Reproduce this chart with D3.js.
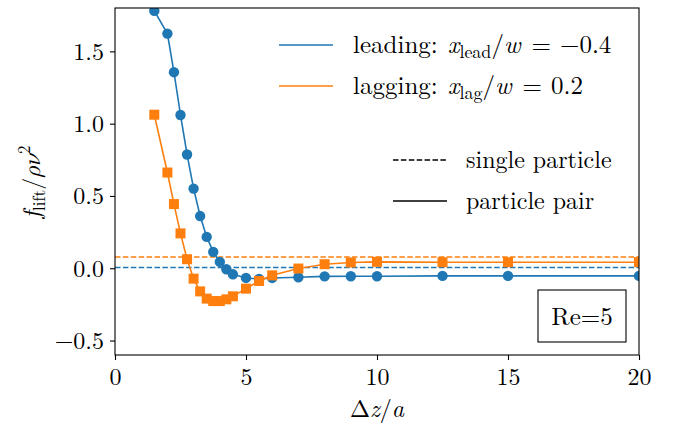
<!DOCTYPE html>
<html><head><meta charset="utf-8">
<script src="https://cdn.jsdelivr.net/npm/d3@7"></script>
</head>
<body style="margin:0;background:#fff"><svg id="c" width="675" height="425"></svg>
<script>
// Data
const leadX = [1.5, 2.0, 2.25, 2.5, 2.75, 3.0, 3.25, 3.5, 3.75, 4.0, 4.25, 4.5, 5, 5.5, 6, 7, 8, 9, 10, 12.5, 15, 20];
const leadY = [1.78, 1.623, 1.356, 1.06, 0.787, 0.551, 0.361, 0.217, 0.113, 0.044, -0.007, -0.042, -0.067, -0.074, -0.067, -0.0625, -0.056, -0.055, -0.055, -0.053, -0.053, -0.053];
const lagX = [1.5, 2.0, 2.25, 2.5, 2.75, 3.0, 3.25, 3.5, 3.75, 4.0, 4.25, 4.5, 5, 5.5, 6, 7, 8, 9, 10, 12.5, 15, 20];
const lagY = [1.062, 0.662, 0.444, 0.241, 0.0625, -0.072, -0.16, -0.21, -0.227, -0.227, -0.215, -0.194, -0.141, -0.088, -0.049, -0.002, 0.028, 0.040, 0.044, 0.042, 0.042, 0.042];
const singleLead = 0.005;
const singleLag = 0.078;
const xTicks = [0, 5, 10, 15, 20];
const yTicks = [-0.5, 0.0, 0.5, 1.0, 1.5];

const FONT = "'Latin Modern Roman', 'Liberation Serif', serif";
const MATHF = "'Latin Modern Math', 'Latin Modern Roman', 'DejaVu Serif', serif";
const C_BLUE = "#1f77b4", C_ORANGE = "#ff7f0e";
const L = 115, R = 639, T = 8, B = 355;
const svg = d3.select("#c").attr("font-family", FONT);
const x = d3.scaleLinear().domain([0, 20]).range([L, R]);
const y = d3.scaleLinear().domain([-0.6, 1.8]).range([B, T]);

svg.append("defs").append("clipPath").attr("id", "clip")
  .append("rect").attr("x", L).attr("y", T).attr("width", R - L).attr("height", B - T);

const plot = svg.append("g").attr("clip-path", "url(#clip)");

[[singleLead, C_BLUE], [singleLag, C_ORANGE]].forEach(([v, c]) => {
  plot.append("line").attr("x1", L).attr("x2", R).attr("y1", y(v)).attr("y2", y(v))
    .attr("stroke", c).attr("stroke-width", 1.5).attr("stroke-dasharray", "5.5,2.4");
});

const line = d3.line().x(d => x(d[0])).y(d => y(d[1]));
const lead = leadX.map((v, i) => [v, leadY[i]]);
const lag = lagX.map((v, i) => [v, lagY[i]]);

plot.append("path").datum(lead).attr("d", line).attr("fill", "none").attr("stroke", C_BLUE).attr("stroke-width", 1.6);
plot.selectAll(".cir").data(lead).enter().append("circle")
  .attr("cx", d => x(d[0])).attr("cy", d => y(d[1])).attr("r", 5.2).attr("fill", C_BLUE);

plot.append("path").datum(lag).attr("d", line).attr("fill", "none").attr("stroke", C_ORANGE).attr("stroke-width", 1.6);
const s = 10;
plot.selectAll(".sq").data(lag).enter().append("rect")
  .attr("x", d => x(d[0]) - s / 2).attr("y", d => y(d[1]) - s / 2).attr("width", s).attr("height", s).attr("fill", C_ORANGE);

// Axes
const fmtY = d => d3.format(".1f")(d).replace("-", "\u2212");
const xAxis = svg.append("g").attr("transform", `translate(0,${B})`)
  .call(d3.axisBottom(x).tickValues(xTicks).tickSize(5).tickPadding(6).tickFormat(d3.format("d")));
const yAxis = svg.append("g").attr("transform", `translate(${L},0)`)
  .call(d3.axisLeft(y).tickValues(yTicks).tickSize(5).tickPadding(6).tickFormat(fmtY));
[xAxis, yAxis].forEach(a => {
  a.attr("font-family", FONT).attr("font-size", 24);
  a.select(".domain").remove();
  a.selectAll(".tick line").attr("stroke", "#000").attr("stroke-width", 1.1);
  a.selectAll(".tick text").attr("font-size", 24).attr("font-family", FONT).attr("fill", "#000");
});
xAxis.selectAll(".tick text").attr("dy", "0.8em");
yAxis.selectAll(".tick text").attr("dy", "0.33em");

svg.append("rect").attr("x", L).attr("y", T).attr("width", R - L).attr("height", B - T)
  .attr("fill", "none").attr("stroke", "#000").attr("stroke-width", 1.1);

function txt(xx, yy, size) {
  return svg.append("text").attr("x", xx).attr("y", yy).attr("font-size", size).attr("font-family", FONT).attr("fill", "#000");
}

// Axis labels
const xl = txt(377, 417, 24).attr("text-anchor", "middle");
xl.append("tspan").text("\u0394");
xl.append("tspan").attr("font-style", "italic").text("z");
xl.append("tspan").text("/");
xl.append("tspan").attr("font-style", "italic").text("a");

const yl = svg.append("text").attr("transform", "translate(40,182) rotate(-90)").attr("text-anchor", "middle")
  .attr("font-size", 24).attr("font-family", FONT).attr("fill", "#000");
yl.append("tspan").attr("font-style", "italic").text("f");
yl.append("tspan").attr("font-size", 17).attr("dy", 5).text("lift");
yl.append("tspan").attr("dy", -5).text("/");
yl.append("tspan").attr("font-family", MATHF).attr("font-style", "italic").text("\u03c1\u03bd");
yl.append("tspan").attr("font-size", 17).attr("dy", -10).text("2");

// Legend 1
function legRow(yy, color) {
  svg.append("line").attr("x1", 279).attr("x2", 333).attr("y1", yy).attr("y2", yy)
    .attr("stroke", color).attr("stroke-width", 1.5);
}
legRow(45, C_BLUE);
legRow(86, C_ORANGE);
function mathLabel(xx, yy, pre, sub, val) {
  const t = txt(xx, yy, 25);
  t.append("tspan").text(pre);
  t.append("tspan").attr("dx", 10).attr("font-style", "italic").text("x");
  t.append("tspan").attr("font-size", 18).attr("dy", 5).text(sub);
  t.append("tspan").attr("dy", -5).text("/");
  t.append("tspan").attr("font-style", "italic").text("w");
  t.append("tspan").attr("dx", 11).text("=");
  t.append("tspan").attr("dx", 9).text(val);
}
mathLabel(353, 53, "leading:", "lead", "\u22120.4");
mathLabel(353, 94, "lagging:", "lag", "0.2");

// Legend 2
function leg2(yy, dash) {
  svg.append("line").attr("x1", 393).attr("x2", 447).attr("y1", yy).attr("y2", yy)
    .attr("stroke", "#000").attr("stroke-width", 1.5).attr("stroke-dasharray", dash || null);
}
leg2(160, "5.5,2.4");
leg2(201);
txt(466, 168, 24).text("single particle");
txt(466, 209, 24).text("particle pair");

// Re box
svg.append("rect").attr("x", 538).attr("y", 290).attr("width", 88).attr("height", 52)
  .attr("fill", "#fff").attr("stroke", "#000").attr("stroke-width", 1.1);
txt(582, 325, 25).attr("text-anchor", "middle").text("Re=5");
</script></body></html>
